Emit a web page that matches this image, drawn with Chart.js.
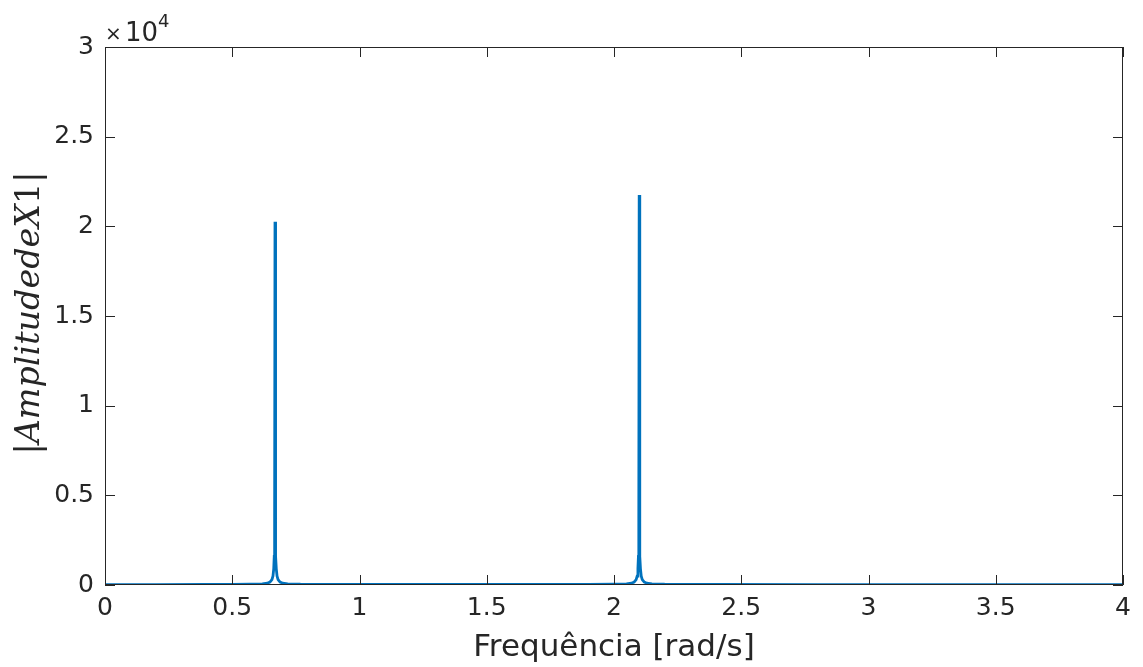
<!DOCTYPE html>
<html><head><meta charset="utf-8">
<script src="https://cdn.jsdelivr.net/npm/chart.js@4"></script>
<style>html,body{margin:0;padding:0;background:#fff}#wrap{width:1143px;height:667px;position:relative}</style>
</head><body><div id="wrap"><canvas id="c" width="1143" height="667"></canvas></div>
<script>
const frequency = [0,0.2,0.4,0.5,0.568,0.618,0.638,0.648,0.656,0.66,0.663,0.665,0.6665,0.668,0.6695,0.671,0.673,0.676,0.68,0.688,0.698,0.718,0.768,0.9,1.2,1.5,1.8,1.9,1.999,2.049,2.069,2.079,2.087,2.091,2.094,2.096,2.0975,2.099,2.1005,2.102,2.104,2.107,2.111,2.119,2.129,2.149,2.199,2.4,2.8,3.2,3.6,4.0];
const amplitude = [20,25,30,35,45,65,100,160,300,500,900,1600,3500,20250,3500,1600,900,500,300,160,100,65,45,35,30,28,30,35,45,65,100,160,300,500,900,1600,3700,21750,3700,1600,900,500,300,160,100,65,45,30,25,22,20,20];
const xTicks = [0,0.5,1,1.5,2,2.5,3,3.5,4];
const yTicks = [0,5000,10000,15000,20000,25000,30000];
const xTitle = 'Frequência [rad/s]';
const axisColor = '#262626';

const data = frequency.map((f,i)=>({x:f,y:amplitude[i]}));

const decor = {
  id:'decor',
  afterDatasetsDraw(chart){
    const {ctx, chartArea:a, scales} = chart;
    const xs = scales.x, ys = scales.y;
    ctx.save();
    ctx.strokeStyle = axisColor; ctx.lineWidth = 1;
    ctx.beginPath();
    ctx.rect(a.left+0.5, a.top+0.5, a.right-a.left-1, a.bottom-a.top-1);
    ctx.stroke();
    ctx.beginPath();
    const tl = 10;
    xTicks.forEach(v=>{
      const p = Math.round(xs.getPixelForValue(v))+0.5;
      ctx.moveTo(p,a.bottom); ctx.lineTo(p,a.bottom-tl);
      ctx.moveTo(p,a.top); ctx.lineTo(p,a.top+tl);
    });
    yTicks.forEach(v=>{
      const p = Math.round(ys.getPixelForValue(v))+0.5;
      ctx.moveTo(a.left,p); ctx.lineTo(a.left+tl,p);
      ctx.moveTo(a.right,p); ctx.lineTo(a.right-tl,p);
    });
    ctx.stroke();
    // exponent
    ctx.fillStyle = axisColor;
    ctx.textBaseline = 'alphabetic';
    ctx.textAlign = 'left';
    ctx.font = '20px "DejaVu Sans"';
    ctx.fillText('\u00D7', 105, 40);
    ctx.font = '26px "DejaVu Sans"';
    ctx.fillText('10', 125, 41);
    ctx.font = '18px "DejaVu Sans"';
    ctx.fillText('4', 158, 27);
    // x title
    ctx.font = '31px "DejaVu Sans"';
    ctx.textAlign = 'center';
    ctx.fillText(xTitle, (a.left+a.right)/2, 656);
    // y title (latex-like)
    ctx.translate(39, 313);
    ctx.rotate(-Math.PI/2);
    ctx.textAlign = 'left';
    const target = 283;
    const mk = s => [['|', s+'px "DejaVu Serif"'],['AmplitudedeX','italic '+s+'px "DejaVu Serif"'],['1', s+'px "DejaVu Serif"'],['|', s+'px "DejaVu Serif"']];
    const meas = s => mk(s).reduce((w,p)=>{ctx.font=p[1]; return w+ctx.measureText(p[0]).width;},0);
    let size = 30; size = size*target/meas(size);
    const parts = mk(size);
    let x = -target/2;
    parts.forEach(p=>{ctx.font=p[1]; ctx.fillStyle = axisColor; ctx.fillText(p[0], x, 0); x+=ctx.measureText(p[0]).width;});
    ctx.restore();
  }
};

new Chart(document.getElementById('c'), {
  type:'line',
  data:{datasets:[{data, borderColor:'#0072BD', borderWidth:2.8, pointRadius:0, tension:0, fill:false}]},
  options:{
    responsive:false, animation:false,
    layout:{padding:{top:47,right:20,left:0,bottom:0}},
    plugins:{legend:{display:false}, tooltip:{enabled:false}},
    scales:{
      x:{type:'linear', min:0, max:4,
        afterBuildTicks(s){ s.ticks = xTicks.map(v=>({value:v})); },
        afterFit(s){ s.height = 82; },
        grid:{display:false, drawTicks:false}, border:{display:false},
        ticks:{color:axisColor, font:{family:'DejaVu Sans', size:25}, padding:8, maxRotation:0, autoSkip:false,
          callback:v=>String(v)}},
      y:{type:'linear', min:0, max:30000,
        afterBuildTicks(s){ s.ticks = yTicks.map(v=>({value:v})); },
        afterFit(s){ s.width = 105; },
        grid:{display:false, drawTicks:false}, border:{display:false},
        ticks:{color:axisColor, font:{family:'DejaVu Sans', size:25}, padding:11, autoSkip:false,
          callback:v=>String(v/10000)}}
    }
  },
  plugins:[decor]
});
</script></body></html>
